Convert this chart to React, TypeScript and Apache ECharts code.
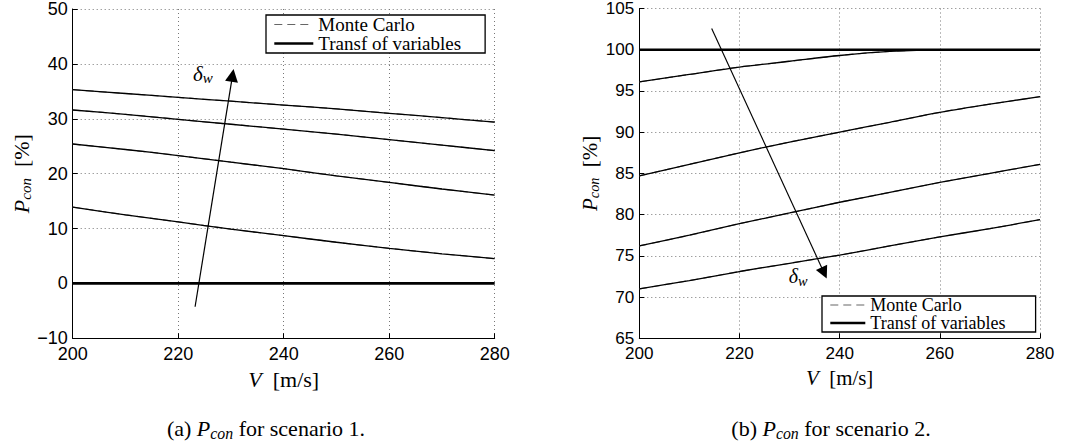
import React, { useEffect, useRef } from "react";
import * as echarts from "echarts";

// ---- data ----
const V = [200, 210, 220, 230, 240, 250, 260, 270, 280];

const S1_CURVES = [
  [35.3, 34.6, 33.9, 33.2, 32.5, 31.8, 31.0, 30.2, 29.4],
  [31.6, 30.8, 29.9, 29.0, 28.1, 27.2, 26.2, 25.2, 24.2],
  [25.4, 24.4, 23.3, 22.1, 20.9, 19.6, 18.4, 17.2, 16.1],
  [13.9, 12.5, 11.2, 9.9, 8.7, 7.5, 6.4, 5.4, 4.5],
];
const S1_BASE = [0, 0, 0, 0, 0, 0, 0, 0, 0];

const S2_CURVES = [
  [96.1, 97.0, 97.9, 98.6, 99.3, 99.8, 100, 100, 100],
  [84.7, 86.1, 87.5, 88.8, 90.0, 91.2, 92.4, 93.4, 94.3],
  [76.2, 77.5, 78.9, 80.2, 81.5, 82.7, 83.9, 85.0, 86.1],
  [71.0, 72.0, 73.1, 74.1, 75.1, 76.2, 77.3, 78.3, 79.4],
];
const S2_BASE = [100, 100, 100, 100, 100, 100, 100, 100, 100];

// annotation arrows (data coords: [V, Pcon])
const S1_ARROW = [[223.2, -4.25], [230.3, 37.9]];
const S2_ARROW = [[214.45, 102.58], [236.9, 72.93]];
const S1_DELTA = [224.7, 38.2];
const S2_DELTA = [231.7, 72.5];

const X_TICKS = { min: 200, max: 280, interval: 20 };
const Y1_TICKS = { min: -10, max: 50, interval: 10 };
const Y2_TICKS = { min: 65, max: 105, interval: 5 };

const LEGEND_NAMES = ["Monte Carlo", "Transf of variables"];
const CAPTIONS = ["(a) {i|P}{s|con} for scenario 1.", "(b) {i|P}{s|con} for scenario 2."];

const SERIF = "Liberation Serif";
const SANS = "Liberation Sans";

function pairs(ys: number[]) {
  return V.map((v, i) => [v, ys[i]]);
}

function xAxis(gridIndex: number, k: number) {
  return {
    type: "value",
    gridIndex,
    ...X_TICKS,
    axisLine: { show: true, onZero: false, lineStyle: { color: "#000", width: 1 } },
    axisTick: { show: true, inside: true, length: 5, lineStyle: { color: "#000" } },
    axisLabel: { color: "#000", fontFamily: SANS, fontSize: 18 * k, margin: 7 },
    splitLine: { show: true, lineStyle: { color: "#777", type: [1, 3], width: 1 } },
    name: "{i|V}  [m/s]",
    nameLocation: "middle",
    nameGap: 23,
    nameTextStyle: {
      color: "#000",
      fontFamily: SERIF,
      fontSize: 22 * k,
      rich: { i: { fontFamily: SERIF, fontStyle: "italic", fontSize: 22 * k, color: "#000" } },
    },
  };
}

function yAxis(gridIndex: number, t: any, k: number) {
  return {
    type: "value",
    gridIndex,
    ...t,
    axisLine: { show: true, onZero: false, lineStyle: { color: "#000", width: 1 } },
    axisTick: { show: true, inside: true, length: 5, lineStyle: { color: "#000" } },
    axisLabel: {
      color: "#000",
      fontFamily: SANS,
      fontSize: 18 * k,
      margin: 5,
      formatter: (v: number) => String(v).replace("-", "\u2212"),
    },
    splitLine: { show: true, lineStyle: { color: "#777", type: [1, 3], width: 1 } },
    name: "{i|P}{s|con}  [%]",
    nameLocation: "middle",
    nameGap: 38,
    nameTextStyle: {
      color: "#000",
      fontFamily: SERIF,
      fontSize: 22 * k,
      rich: {
        i: { fontFamily: SERIF, fontStyle: "italic", fontSize: 22 * k, color: "#000" },
        s: { fontFamily: SERIF, fontStyle: "italic", fontSize: 15 * k, color: "#000", padding: [9, 0, 0, 0] },
      },
    },
  };
}

function plotSeries(idx: number, curves: number[][], base: number[], arrow: number[][], delta: number[], k: number) {
  const out: any[] = [];
  curves.forEach((c) => {
    out.push({
      type: "line",
      name: LEGEND_NAMES[0],
      xAxisIndex: idx,
      yAxisIndex: idx,
      data: pairs(c),
      symbol: "none",
      showSymbol: false,
      smooth: 0.3,
      z: 1,
      itemStyle: { color: "#666" },
      lineStyle: { color: "#666", width: 1.2, type: [8, 5] },
    });
    out.push({
      type: "line",
      name: LEGEND_NAMES[1],
      xAxisIndex: idx,
      yAxisIndex: idx,
      data: pairs(c),
      symbol: "none",
      showSymbol: false,
      smooth: 0.3,
      z: 2,
      itemStyle: { color: "#000" },
      lineStyle: { color: "#000", width: 1.3 },
    });
  });
  out.push({
    type: "line",
    name: LEGEND_NAMES[1],
    xAxisIndex: idx,
    yAxisIndex: idx,
    data: pairs(base),
    symbol: "none",
    showSymbol: false,
    z: 3,
    itemStyle: { color: "#000" },
    lineStyle: { color: "#000", width: 2.6 },
    markLine: {
      silent: true,
      symbol: ["none", "triangle"],
      symbolSize: 13 * k,
      label: { show: false },
      lineStyle: { type: "solid", color: "#000", width: 1.2 * k },
      data: [[{ coord: arrow[0] }, { coord: arrow[1] }]],
    },
    markPoint: {
      silent: true,
      symbol: "circle",
      symbolSize: 0,
      data: [{ coord: delta, value: 0 }],
      label: {
        show: true,
        formatter: "{d|\u03b4}{s|w}",
        rich: {
          d: { fontFamily: SERIF, fontStyle: "italic", fontSize: 21 * k, color: "#000" },
          s: { fontFamily: SERIF, fontStyle: "italic", fontSize: 15 * k, color: "#000", padding: [9, 0, 0, 0] },
        },
      },
    },
  });
  return out;
}

function legend(left: number, top: number, iw: number, fs: number, padR: number) {
  return {
    orient: "vertical",
    left,
    top,
    itemWidth: iw,
    itemHeight: 10,
    itemGap: 0,
    padding: [0, padR, 0, 7],
    borderColor: "#000",
    borderWidth: 1.3,
    borderRadius: 0,
    backgroundColor: "#fff",
    selectedMode: false,
    textStyle: { fontFamily: SERIF, fontSize: fs, lineHeight: 18, color: "#000" },
    data: [
      {
        name: LEGEND_NAMES[0],
        itemStyle: { opacity: 0, color: "transparent", borderWidth: 0 },
        lineStyle: { color: "#666", width: 1.2, type: [8, 5], opacity: 1 },
      },
      {
        name: LEGEND_NAMES[1],
        itemStyle: { opacity: 0, color: "transparent", borderWidth: 0 },
        lineStyle: { color: "#000", width: 2.6, type: "solid", opacity: 1 },
      },
    ],
  };
}

function caption(x: number, y: number, text: string, fs: number) {
  return {
    type: "text",
    x,
    y,
    style: {
      text,
      fontFamily: SERIF,
      fontSize: fs,
      fill: "#000",
      align: "center",
      verticalAlign: "middle",
      textAlign: "center",
      textVerticalAlign: "middle",
      rich: {
        i: { fontFamily: SERIF, fontStyle: "italic", fontSize: fs, fill: "#000" },
        s: { fontFamily: SERIF, fontStyle: "italic", fontSize: fs * 0.72, fill: "#000", padding: [10, 0, 0, 0] },
      },
    },
  };
}

export default function App() {
  const ref = useRef<HTMLDivElement>(null);
  useEffect(() => {
    if (!ref.current) return;
    const chart = echarts.init(ref.current, undefined, { renderer: "svg" });
    const k2 = 0.95;
    chart.setOption({
      animation: false,
      backgroundColor: "#fff",
      grid: [
        { left: 72.7, top: 8.3, width: 422, height: 330, containLabel: false },
        { left: 639.3, top: 8.3, width: 400.7, height: 330, containLabel: false },
      ],
      xAxis: [xAxis(0, 1), xAxis(1, k2)],
      yAxis: [yAxis(0, Y1_TICKS, 1), yAxis(1, Y2_TICKS, k2)],
      legend: [legend(266, 15, 39, 19, 24), legend(822, 296, 35, 18, 30)],
      series: [
        ...plotSeries(0, S1_CURVES, S1_BASE, S1_ARROW, S1_DELTA, 1),
        ...plotSeries(1, S2_CURVES, S2_BASE, S2_ARROW, S2_DELTA, k2),
      ],
      graphic: [caption(266, 428, CAPTIONS[0], 22), caption(831, 428, CAPTIONS[1], 22)],
    });
    return () => chart.dispose();
  }, []);
  return (
    <div
      ref={ref}
      style={{ position: "fixed", left: 0, top: 0, width: 1091, height: 447, background: "#fff" }}
    />
  );
}
